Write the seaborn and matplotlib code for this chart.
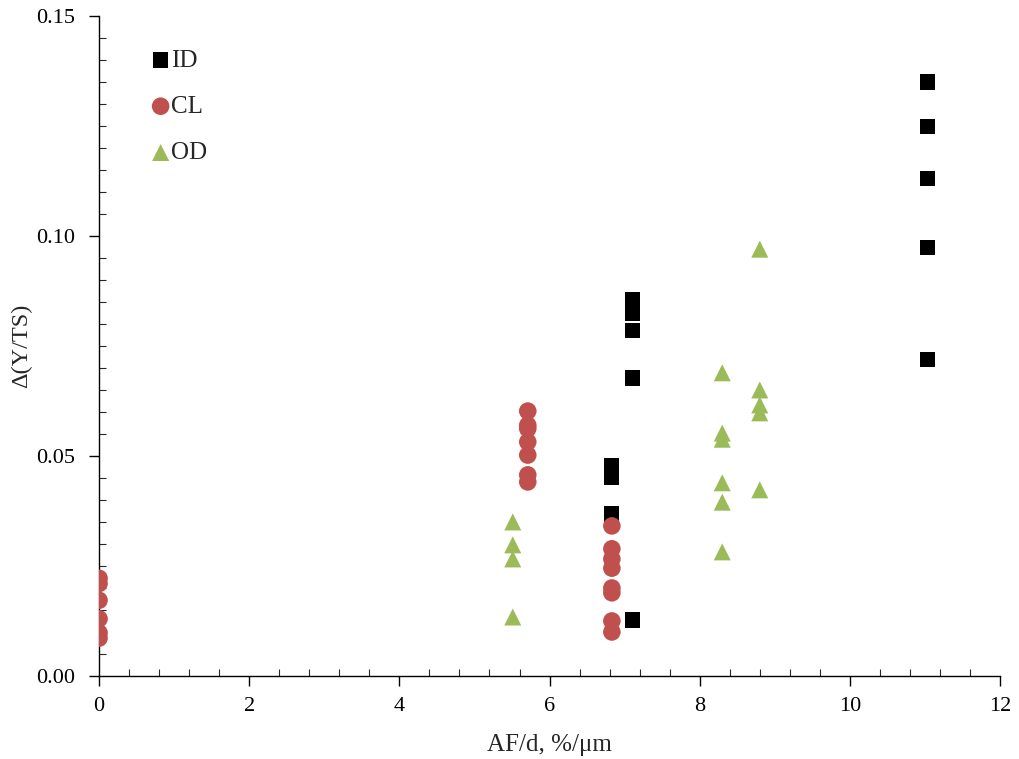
import matplotlib
matplotlib.use("Agg")
import matplotlib.pyplot as plt
import seaborn as sns
import pandas as pd
import numpy as np
from matplotlib.ticker import MultipleLocator, FormatStrFormatter

# ---- data ----
id_x = [6.83, 6.83, 6.83, 7.11, 7.11, 7.11, 7.11, 7.11, 7.11, 11.03, 11.03, 11.03, 11.03, 11.03]
id_y = [0.0477, 0.0452, 0.0368, 0.0855, 0.0840, 0.0825, 0.0786, 0.0677, 0.0127, 0.135, 0.1248, 0.113, 0.0973, 0.072]

cl_x = [0, 0, 0, 0, 0, 0, 5.71, 5.71, 5.71, 5.71, 5.71, 5.71, 5.71,
        6.83, 6.83, 6.83, 6.83, 6.83, 6.83, 6.83, 6.83]
cl_y = [0.0222, 0.0210, 0.0172, 0.0130, 0.0098, 0.0086,
        0.0602, 0.0570, 0.0562, 0.0532, 0.0502, 0.0457, 0.0441,
        0.0341, 0.0289, 0.0266, 0.0245, 0.0200, 0.0189, 0.0125, 0.0100]

od_x = [5.51, 5.51, 5.51, 5.51, 8.30, 8.30, 8.30, 8.30, 8.30, 8.30, 8.80, 8.80, 8.80, 8.80, 8.80]
od_y = [0.0350, 0.0298, 0.0266, 0.0134, 0.0689, 0.0552, 0.0538, 0.0439, 0.0395, 0.0282,
        0.0970, 0.0650, 0.0616, 0.0598, 0.0423]

groups = ["ID", "CL", "OD"]
colors = {"ID": "#000000", "CL": "#C0504D", "OD": "#9BBB59"}
markers = {"ID": "s", "CL": "o", "OD": "^"}
sizes = {"ID": 120, "CL": 160, "OD": 150}

df = pd.concat([
    pd.DataFrame({"x": id_x, "y": id_y, "g": "ID"}),
    pd.DataFrame({"x": cl_x, "y": cl_y, "g": "CL"}),
    pd.DataFrame({"x": od_x, "y": od_y, "g": "OD"}),
], ignore_index=True)

sns.set_style("ticks")
plt.rcParams["font.family"] = ["Liberation Serif", "DejaVu Serif"]
plt.rcParams["mathtext.fontset"] = "stix"

fig = plt.figure(figsize=(10.19, 7.59), dpi=100)
ax = fig.add_axes([0.0972, 0.1094, 0.8842, 0.8696])

for g in groups:
    sub = df[df["g"] == g]
    sns.scatterplot(data=sub, x="x", y="y", ax=ax, marker=markers[g], color=colors[g],
                    s=sizes[g], edgecolor="none", linewidth=0, label=g, zorder=3)

ax.set_xlim(0, 12)
ax.set_ylim(0, 0.15)
ax.xaxis.set_major_locator(MultipleLocator(2))
ax.xaxis.set_minor_locator(MultipleLocator(0.4))
ax.yaxis.set_major_locator(MultipleLocator(0.05))
ax.yaxis.set_minor_locator(MultipleLocator(0.005))
ax.yaxis.set_major_formatter(FormatStrFormatter("%.2f"))
ax.tick_params(which="major", direction="out", length=7, width=1, labelsize=16, colors="black")
ax.tick_params(axis="y", which="major", pad=10)
ax.tick_params(axis="x", which="major", pad=8)
ax.tick_params(which="minor", direction="in", length=5, width=0.8)
for sp in ["top", "right"]:
    ax.spines[sp].set_visible(False)
for sp in ["left", "bottom"]:
    ax.spines[sp].set_linewidth(1)
    ax.spines[sp].set_color("black")

ax.set_xlabel("AF/d, %/μm", fontsize=18, labelpad=13)
ax.set_ylabel("Δ(Y/TS)", fontsize=17.5, labelpad=3)

leg = ax.legend(loc="upper left", bbox_to_anchor=(0.042, 0.965), frameon=False, fontsize=18,
                handletextpad=-0.15, labelspacing=0.95, handlelength=1.1, borderaxespad=0)

fig.savefig("out.png", dpi=100)
